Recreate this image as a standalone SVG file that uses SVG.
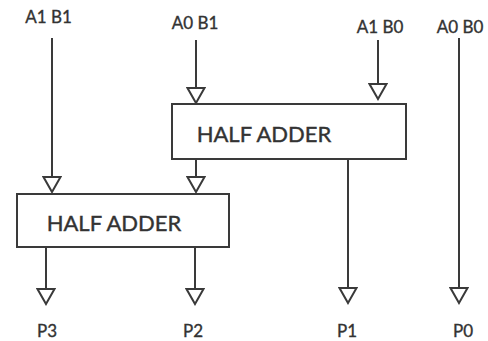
<svg xmlns="http://www.w3.org/2000/svg" width="488" height="341" viewBox="0 0 488 341">
  <style>
    .lbl { font-family: Lato, "Open Sans", "Liberation Sans", sans-serif; font-size: 17px; fill: #333; stroke: #333; stroke-width: 0.35; text-anchor: middle; }
    .box { fill: #fff; stroke: #3a3a3a; stroke-width: 2; }
    .boxtxt { font-family: Lato, "Open Sans", "Liberation Sans", sans-serif; font-size: 22px; fill: #333; stroke: #333; stroke-width: 0.4; text-anchor: middle; }
    .wire { stroke: #3a3a3a; stroke-width: 2; fill: none; marker-end: url(#tri); }
  </style>
  <defs>
    <!-- open triangular arrowhead; base sits on the wire end -->
    <marker id="tri" markerUnits="userSpaceOnUse" viewBox="-1 -10 18 20" markerWidth="18" markerHeight="20" refX="0" refY="0" orient="auto">
      <path d="M0,-8.5 L15,0 L0,8.5 Z" fill="#fff" stroke="#3a3a3a" stroke-width="2" stroke-linejoin="miter"/>
    </marker>
  </defs>
  <rect width="488" height="341" fill="#fff"/>

  <!-- input labels -->
  <g id="in-a1b1"><text class="lbl" x="48.5" y="23">A1 B1</text></g>
  <g id="in-a0b1"><text class="lbl" x="195" y="29">A0 B1</text></g>
  <g id="in-a1b0"><text class="lbl" x="380" y="33">A1 B0</text></g>
  <g id="in-a0b0"><text class="lbl" x="460" y="33">A0 B0</text></g>

  <!-- connectors -->
  <g id="connectors">
    <line class="wire" x1="52" y1="38" x2="52" y2="177"/>
    <line class="wire" x1="196" y1="40" x2="196" y2="88"/>
    <line class="wire" x1="378" y1="40" x2="378" y2="84"/>
    <line class="wire" x1="459" y1="38" x2="459" y2="288"/>
    <line class="wire" x1="196" y1="159" x2="196" y2="177"/>
    <line class="wire" x1="348" y1="159" x2="348" y2="288"/>
    <line class="wire" x1="46" y1="247" x2="46" y2="289"/>
    <line class="wire" x1="195" y1="247" x2="195" y2="289"/>
  </g>

  <!-- half adders -->
  <g id="ha-top">
    <rect class="box" x="172" y="104" width="234" height="55"/>
    <text class="boxtxt" x="264" y="142">HALF ADDER</text>
  </g>
  <g id="ha-bottom">
    <rect class="box" x="17" y="194" width="212" height="53"/>
    <text class="boxtxt" x="114" y="231">HALF ADDER</text>
  </g>

  <!-- output labels -->
  <g id="out-p3"><text class="lbl" x="47" y="337">P3</text></g>
  <g id="out-p2"><text class="lbl" x="193" y="337">P2</text></g>
  <g id="out-p1"><text class="lbl" x="347" y="337">P1</text></g>
  <g id="out-p0"><text class="lbl" x="463" y="337">P0</text></g>
</svg>
